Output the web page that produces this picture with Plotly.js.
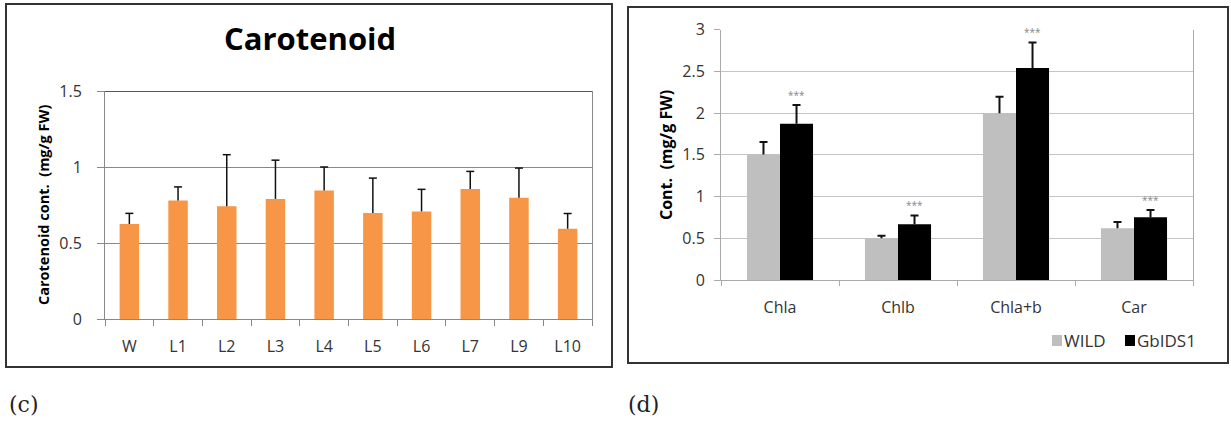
<!DOCTYPE html>
<html><head><meta charset="utf-8">
<script src="https://cdn.plot.ly/plotly-3.0.1.min.js"></script>
<style>html,body{margin:0;padding:0;background:#fff}#chart{width:1231px;height:421px}</style>
</head><body><div id="chart"></div>
<script>
// ---- data (c) ----
const lines = ['W','L1','L2','L3','L4','L5','L6','L7','L9','L10'];
const carotenoid = [0.625,0.779,0.741,0.790,0.845,0.697,0.708,0.856,0.798,0.594];
const carotenoidErr = [0.07,0.09,0.34,0.255,0.155,0.23,0.145,0.115,0.195,0.10];
// ---- data (d) ----
const pigments = ['Chla','Chlb','Chla+b','Car'];
const wild = [1.504,0.50,1.996,0.62];
const wildErr = [0.15,0.03,0.20,0.075];
const gbids1 = [1.872,0.668,2.54,0.752];
const gbids1Err = [0.225,0.105,0.305,0.085];
const signif = ['***','***','***','***'];
const seriesNames = ['WILD','GbIDS1'];

const W = 1231, H = 421;
const px = v => v / W, py = v => 1 - v / H;
const FONT = 'Open Sans, Noto Sans, sans-serif';
const tickFont = {family: FONT, size: 16, color: '#333'};
const zeros = a => a.map(() => 0);

const traces = [
  {type:'bar', x: lines, y: carotenoid, xaxis:'x', yaxis:'y', width: 0.4,
   marker:{color:'#F79646'}, showlegend:false, hoverinfo:'x+y',
   error_y:{type:'data', symmetric:false, array: carotenoidErr, arrayminus: zeros(carotenoidErr),
            color:'#111', thickness:1.5, width:0}},
  {type:'bar', name: seriesNames[0], x: pigments, y: wild, xaxis:'x2', yaxis:'y2',
   marker:{color:'#BFBFBF'}, showlegend:false,
   error_y:{type:'data', symmetric:false, array: wildErr, arrayminus: zeros(wildErr),
            color:'#111', thickness:2, width:0}},
  {type:'bar', name: seriesNames[1], x: pigments, y: gbids1, xaxis:'x2', yaxis:'y2',
   marker:{color:'#000000'}, showlegend:false,
   error_y:{type:'data', symmetric:false, array: gbids1Err, arrayminus: zeros(gbids1Err),
            color:'#111', thickness:2, width:0}}
];

const shapes = [
  // panel frames
  {type:'rect', xref:'paper', yref:'paper', x0:px(6), x1:px(612), y0:py(367), y1:py(4),
   line:{color:'#333', width:2}},
  {type:'rect', xref:'paper', yref:'paper', x0:px(628), x1:px(1228), y0:py(363), y1:py(7),
   line:{color:'#333', width:2}},
  // dark top border of plot (c)
  {type:'line', xref:'x domain', yref:'y', x0:0, x1:1, y0:1.5, y1:1.5, line:{color:'#222', width:1.5}},
  // legend swatches
  {type:'rect', xref:'paper', yref:'paper', x0:px(1052), x1:px(1062), y0:py(346), y1:py(335),
   fillcolor:'#BFBFBF', line:{width:0}},
  {type:'rect', xref:'paper', yref:'paper', x0:px(1125), x1:px(1135), y0:py(346), y1:py(335),
   fillcolor:'#000', line:{width:0}}
];
// error-bar caps (top only)
lines.forEach((c,i) => shapes.push({type:'line', xref:'x', yref:'y', xsizemode:'pixel', xanchor:c,
  x0:-4, x1:4, y0:carotenoid[i]+carotenoidErr[i], y1:carotenoid[i]+carotenoidErr[i],
  line:{color:'#111', width:1.5}}));
pigments.forEach((c,i) => {
  shapes.push({type:'line', xref:'x2', yref:'y2', xsizemode:'pixel', xanchor:c,
    x0:-16.5-4, x1:-16.5+4, y0:wild[i]+wildErr[i], y1:wild[i]+wildErr[i], line:{color:'#111', width:2}});
  shapes.push({type:'line', xref:'x2', yref:'y2', xsizemode:'pixel', xanchor:c,
    x0:16.5-4, x1:16.5+4, y0:gbids1[i]+gbids1Err[i], y1:gbids1[i]+gbids1Err[i], line:{color:'#111', width:2}});
});

const annotations = [
  {text:'<b>Carotenoid</b>', xref:'paper', yref:'paper', x:px(310), y:py(38), showarrow:false,
   xanchor:'center', yanchor:'middle', font:{family:FONT, size:31, color:'#000'}},
  {text:'<b>Carotenoid cont.  (mg/g FW)</b>', xref:'paper', yref:'paper', x:px(43), y:py(205), showarrow:false,
   textangle:-90, xanchor:'center', yanchor:'middle', font:{family:FONT, size:14.5, color:'#000'}},
  {text:'<b>Cont.  (mg/g FW)</b>', xref:'paper', yref:'paper', x:px(666), y:py(155), showarrow:false,
   textangle:-90, xanchor:'center', yanchor:'middle', font:{family:FONT, size:16, color:'#000'}},
  {text:seriesNames[0], xref:'paper', yref:'paper', x:px(1062), y:py(340), showarrow:false,
   xanchor:'left', yanchor:'middle', font:{family:FONT, size:17, color:'#333'}},
  {text:seriesNames[1], xref:'paper', yref:'paper', x:px(1135), y:py(340), showarrow:false,
   xanchor:'left', yanchor:'middle', font:{family:FONT, size:17, color:'#333'}},
  {text:'(c)', xref:'paper', yref:'paper', x:px(7), y:py(404), showarrow:false,
   xanchor:'left', yanchor:'middle', font:{family:'DejaVu Serif, Liberation Serif, serif', size:22, color:'#222'}},
  {text:'(d)', xref:'paper', yref:'paper', x:px(626), y:py(404), showarrow:false,
   xanchor:'left', yanchor:'middle', font:{family:'DejaVu Serif, Liberation Serif, serif', size:22, color:'#222'}}
];
pigments.forEach((c,i) => annotations.push({text:signif[i], xref:'x2', yref:'y2', x:c,
  y:gbids1[i]+gbids1Err[i], xshift:16.5, yshift:10, showarrow:false, xanchor:'center', yanchor:'middle',
  font:{family:FONT, size:10, color:'#888'}}));

const layout = {
  width: W, height: H, margin:{l:0,r:0,t:0,b:0},
  paper_bgcolor:'#fff', plot_bgcolor:'#fff',
  barmode:'group', bargap:0.44, bargroupgap:0, showlegend:false,
  font:{family:FONT},
  xaxis:{domain:[px(105), px(592)], anchor:'y', type:'category', tickson:'boundaries',
         ticks:'outside', ticklen:6, tickcolor:'#888', showline:true, linecolor:'#888', linewidth:1,
         showgrid:false, tickfont:tickFont, ticklabelstandoff:13, fixedrange:true},
  yaxis:{domain:[py(319), py(91)], anchor:'x', range:[0,1.5], dtick:0.5, ticks:'outside', ticklen:7,
         tickcolor:'#888', showline:true, linecolor:'#888', mirror:true, gridcolor:'#888', gridwidth:1,
         zeroline:false, tickfont:tickFont, ticklabelstandoff:12, fixedrange:true},
  xaxis2:{domain:[px(721), px(1193)], anchor:'y2', type:'category', tickson:'boundaries',
         ticks:'outside', ticklen:5, tickcolor:'#aaa', showline:true, linecolor:'#aaa', linewidth:1,
         showgrid:false, tickfont:tickFont, ticklabelstandoff:13, fixedrange:true},
  yaxis2:{domain:[py(280), py(29.5)], anchor:'x2', range:[0,3], dtick:0.5, ticks:'outside', ticklen:6,
         tickcolor:'#aaa', showline:true, linecolor:'#aaa', mirror:true, gridcolor:'#c4c4c4', gridwidth:1,
         zeroline:false, tickfont:tickFont, ticklabelstandoff:6, fixedrange:true},
  shapes, annotations
};

Plotly.newPlot('chart', traces, layout, {displayModeBar:false, staticPlot:true});
</script></body></html>
